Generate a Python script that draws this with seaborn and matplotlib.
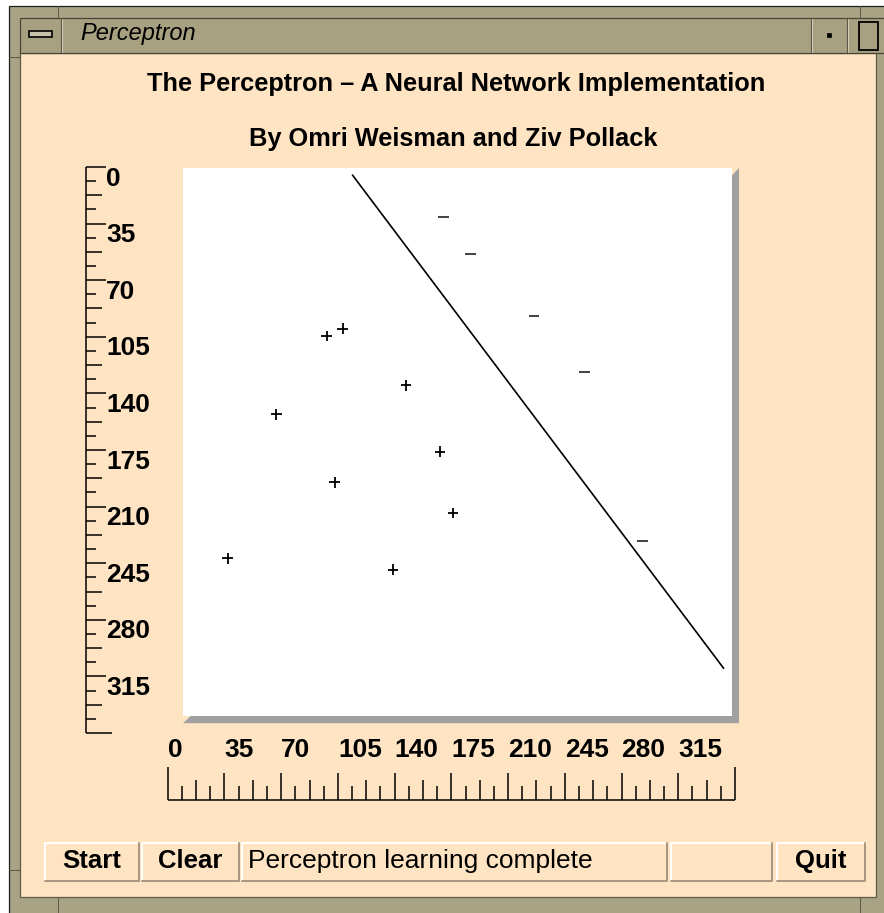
import numpy as np
import pandas as pd
import seaborn as sns
import matplotlib.pyplot as plt
from matplotlib.patches import Rectangle, Polygon

sns.set_theme(style="white")
plt.rcParams['font.family'] = ['Liberation Sans', 'DejaVu Sans']
plt.rcParams['text.color'] = 'black'

W, H = 884, 913
PEACH = '#ffe4c4'
FRAME = '#a9a385'

# points on the canvas, in ruler units (0 - 350)
plus_x = [98, 108, 147, 67, 168, 103, 176, 37, 139]
plus_y = [104.5, 100, 135, 153, 176, 195, 214, 242, 249]
minus_x = [170, 187, 226, 257, 293]
minus_y = [31, 54, 92, 127, 231]
# separating line found by the perceptron
line_x = [114, 343]
line_y = [5, 310]

ruler_ticks = np.arange(0, 350.1, 8.75)
ruler_labels = [0, 35, 70, 105, 140, 175, 210, 245, 280, 315]

title = 'The Perceptron \u2013 A Neural Network Implementation'
subtitle = 'By Omri Weisman and Ziv Pollack'
status = 'Perceptron learning complete'

# ruler placement in pixels
HX0, HX1, HBASE = 167.7, 735.0, 800
VY0, VY1, VSPINE = 167.0, 733.0, 86
CANVAS = (183, 168, 731.5, 715.7)


def box(x0, y0, x1, y1):
    return [x0 / W, 1 - y1 / H, (x1 - x0) / W, (y1 - y0) / H]


def ux(px):
    return (px - HX0) / (HX1 - HX0) * 350


def uy(py):
    return (py - VY0) / (VY1 - VY0) * 350


fig = plt.figure(figsize=(W / 100, H / 100), dpi=100)
fig.patch.set_facecolor('white')

# window decoration
bg = fig.add_axes([0, 0, 1, 1])
bg.set_xlim(0, W)
bg.set_ylim(H, 0)
bg.axis('off')

bg.add_patch(Rectangle((9, 6), W, H, fc=FRAME, ec='#1e1e1e', lw=0.9))
bg.add_patch(Rectangle((20, 53), 856, 844, fc=PEACH, ec='#5e5a45', lw=0.9))
bg.add_patch(Rectangle((20, 18), 870, 35, fc='#a7a182', ec='#4a4636', lw=0.9))
for x in [62, 812, 848]:
    bg.plot([x, x], [19, 52], color='#d8d4c0', lw=0.8)
    bg.plot([x - 1.5, x - 1.5], [19, 52], color='#5a5646', lw=0.8)
for x in [58, 860]:
    bg.plot([x, x], [6, 18], color='#5a5646', lw=0.7)
    bg.plot([x, x], [897, H], color='#5a5646', lw=0.7)
bg.plot([9, 20], [57, 57], color='#5a5646', lw=0.7)
bg.plot([9, 20], [870, 870], color='#5a5646', lw=0.7)

bg.add_patch(Rectangle((29, 31), 23, 6, fc='#c8c3a8', ec='black', lw=1.2))
bg.add_patch(Rectangle((827, 33), 4, 4, fc='black', ec='black', lw=0.5))
bg.add_patch(Rectangle((859, 22), 19, 28, fc='none', ec='black', lw=1.3))
bg.text(80, 40, 'Perceptron', fontsize=17, style='italic',
        ha='left', va='baseline')

bg.text(456, 91, title, fontsize=18.3, fontweight='bold', ha='center', va='baseline')
bg.text(453, 146, subtitle, fontsize=18.3, fontweight='bold', ha='center', va='baseline')

# canvas shadow
x0, y0, x1, y1 = CANVAS
bg.add_patch(Polygon([(x1, y0 + 8), (x1 + 7.5, y0), (x1 + 7.5, y1 + 7.5),
                      (x0, y1 + 7.5), (x0 + 8, y1), (x1, y1)],
                     closed=True, fc='#a0a0a0', ec='none'))

# bottom buttons
buttons = [(45, 139, 'Start', 'bold', 'center'),
           (142, 239, 'Clear', 'bold', 'center'),
           (242, 667, status, 'normal', 'left'),
           (671, 772, '', 'normal', 'center'),
           (777, 865, 'Quit', 'bold', 'center')]
for bx0, bx1, label, weight, align in buttons:
    by0, by1 = 843, 881
    bg.add_patch(Rectangle((bx0, by0), bx1 - bx0, by1 - by0, fc=PEACH, ec='none'))
    bg.plot([bx0, bx0, bx1], [by1, by0, by0], color='white', lw=1.4)
    bg.plot([bx0, bx1, bx1], [by1, by1, by0], color='#a8957e', lw=1.4)
    tx = (bx0 + bx1) / 2 if align == 'center' else bx0 + 6
    fs = 18.5 if weight == 'bold' else 19
    bg.text(tx, 868, label, fontsize=fs, fontweight=weight, ha=align,
            va='baseline')

# drawing canvas
ax = fig.add_axes(box(*CANVAS))
df = pd.DataFrame({
    'x': plus_x + minus_x,
    'y': plus_y + minus_y,
    'cls': ['+'] * len(plus_x) + ['-'] * len(minus_x),
})
sns.scatterplot(data=df, x='x', y='y', hue='cls', style='cls',
                markers={'+': '+', '-': '_'},
                palette={'+': 'black', '-': '#333333'},
                s=60, linewidth=1.3, legend=False, ax=ax)
sns.lineplot(x=line_x, y=line_y, color='black', linewidth=1.2, sort=False, ax=ax)
ax.set_xlim(ux(x0), ux(x1))
ax.set_ylim(uy(y1), uy(y0))
ax.set_facecolor('white')
ax.set_xticks([])
ax.set_yticks([])
ax.set_xlabel('')
ax.set_ylabel('')
for sp in ax.spines.values():
    sp.set_visible(False)

# horizontal ruler
hr = fig.add_axes(box(HX0, 735, HX1, 802))
hr.set_xlim(0, 350)
hr.set_ylim(802, 735)
hr.axis('off')
hlen = [33 if v in (0, 350) else 27 if i % 4 == 0 else 20 if i % 2 == 0 else 14
        for i, v in enumerate(ruler_ticks)]
hr.vlines(ruler_ticks, HBASE, HBASE - np.array(hlen), color='black', lw=1.1, clip_on=False)
hr.hlines(HBASE, 0, 350, color='black', lw=1.1, clip_on=False)
for v in ruler_labels:
    hr.text(v, 757, str(v), fontsize=19, fontweight='bold', ha='left', va='baseline')

# vertical ruler
vr = fig.add_axes(box(80, VY0, 135, VY1))
vr.set_xlim(80, 135)
vr.set_ylim(350, 0)
vr.axis('off')
vlen = [26 if v == 350 else 20 if i % 4 == 0 else 16 if i % 2 == 0 else 10
        for i, v in enumerate(ruler_ticks)]
vr.hlines(ruler_ticks, VSPINE, VSPINE + np.array(vlen), color='black', lw=1.1, clip_on=False)
vr.vlines(VSPINE, 0, 350, color='black', lw=1.1, clip_on=False)
for v in ruler_labels:
    vr.text(106, v + 18.5 / ((VY1 - VY0) / 350), str(v), fontsize=19,
            fontweight='bold', ha='left', va='baseline')

fig.savefig('out.png', dpi=100, facecolor=fig.get_facecolor())
